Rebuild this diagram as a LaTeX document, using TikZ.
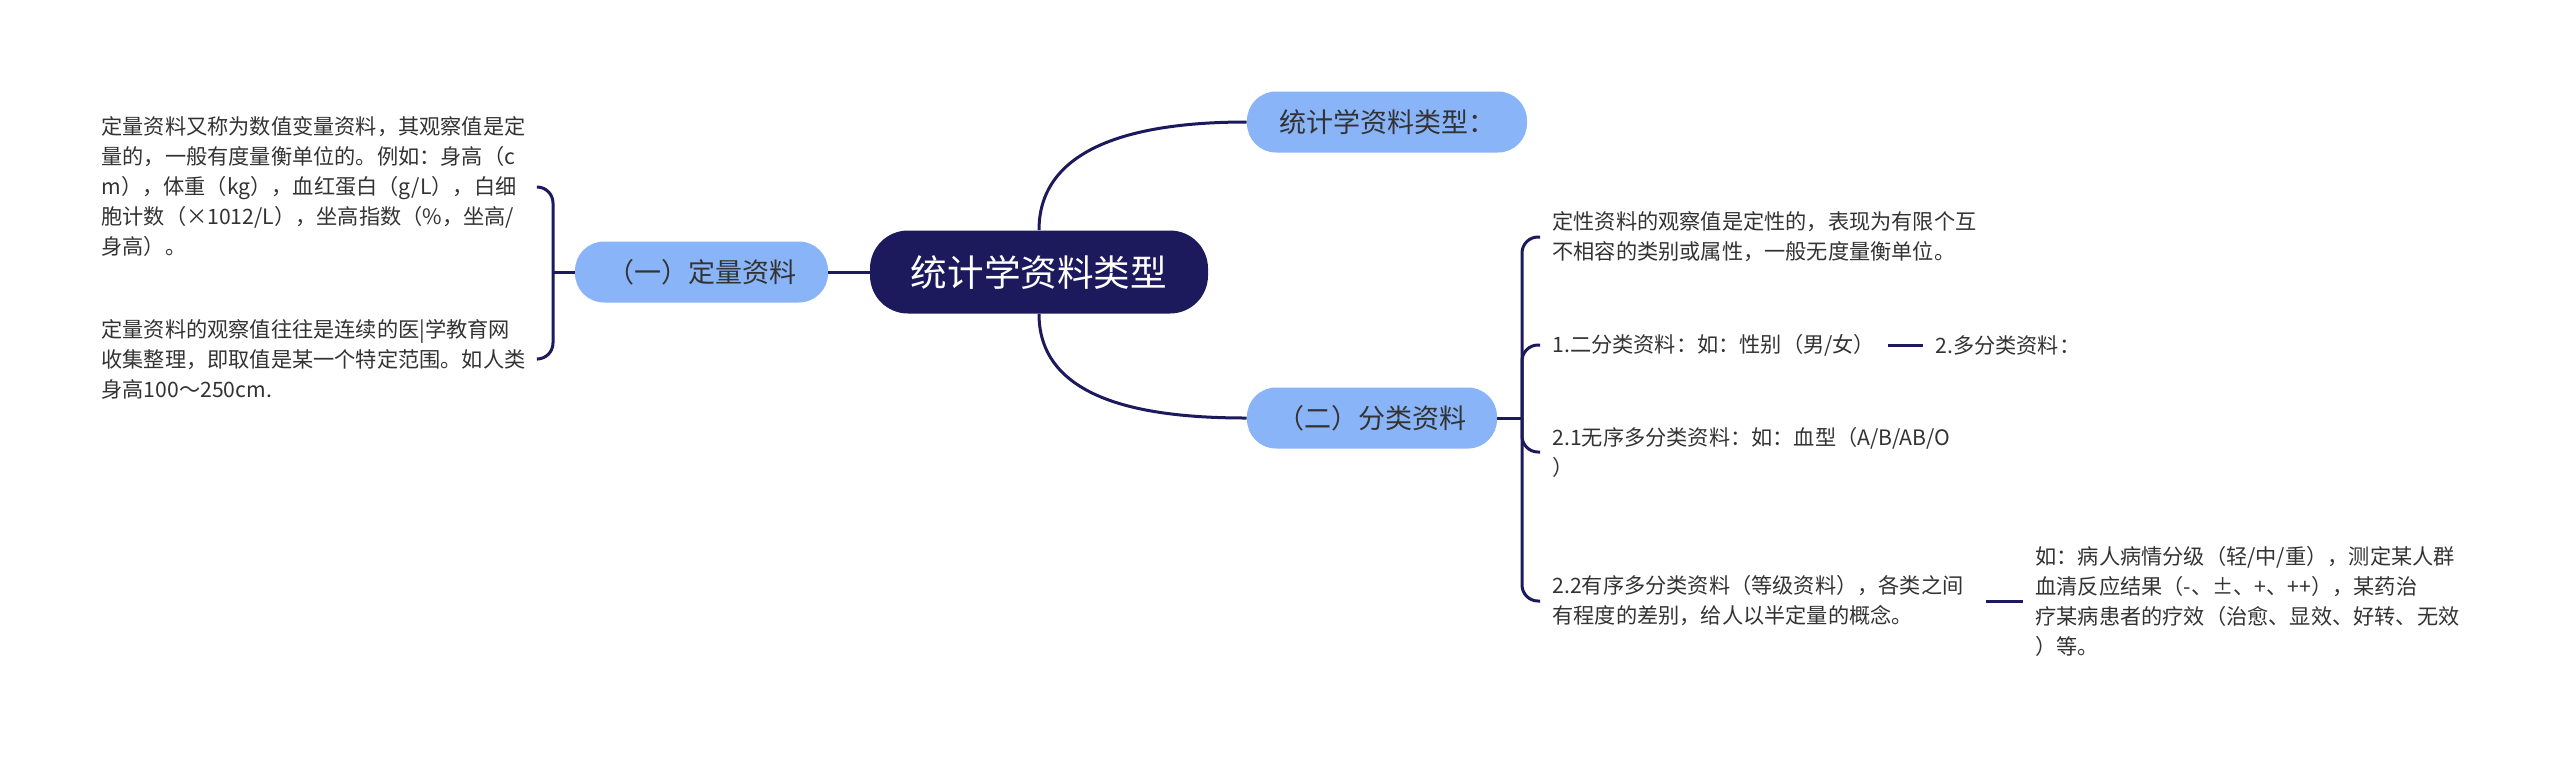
\documentclass[tikz,border=0pt]{standalone}
\usepackage{fontspec}
\setmainfont{Noto Sans CJK SC}
\definecolor{navy}{HTML}{1C1A5C}
\definecolor{pillblue}{HTML}{8AB4F8}
\definecolor{leafgray}{HTML}{333333}
\begin{document}
\begin{tikzpicture}[x=0.5pt, y=-0.5pt,
    root/.style={fill=navy, text=white, rounded corners=19pt, minimum width=169pt, minimum height=41.5pt, font=\fontsize{18.3}{22}\selectfont},
    topic/.style={fill=pillblue, text=leafgray, rounded corners=14.5pt, minimum height=30.5pt, font=\fontsize{13.5}{16}\selectfont},
    leaf/.style={anchor=west, align=left, inner xsep=6pt, inner ysep=0pt, text=leafgray, font=\fontsize{10.6}{15}\selectfont},
    link/.style={draw=navy, line width=1.5pt}]
    \useasboundingbox[fill=white] (0,0) rectangle (2560,757);

    \node[root] (stat) at (1039,272) {统计学资料类型};
    \node[topic, minimum width=140pt] (types) at (1387,122) {统计学资料类型：};
    \node[topic, minimum width=126.5pt] (quant) at (701.5,272) {（一）定量资料};
    \node[topic, minimum width=125pt] (categ) at (1372,418) {（二）分类资料};

    \node[leaf] (quantdef) at (89,187) {定量资料又称为数值变量资料，其观察值是定\\量的，一般有度量衡单位的。例如：身高（c\\m），体重（kg），血红蛋白（g/L），白细\\胞计数（×1012/L），坐高指数（\%，坐高/\\身高）。};
    \node[leaf] (quantrange) at (89,359) {定量资料的观察值往往是连续的医|学教育网\\收集整理，即取值是某一个特定范围。如人类\\身高100～250cm.};

    \node[leaf] (qualdef) at (1540,237) {定性资料的观察值是定性的，表现为有限个互\\不相容的类别或属性，一般无度量衡单位。};
    \node[leaf] (binary) at (1540,345) {1.二分类资料：如：性别（男/女）};
    \node[leaf] (multi) at (1923,345) {2.多分类资料：};
    \node[leaf] (nominal) at (1540,452) {2.1无序多分类资料：如：血型（A/B/AB/O\\）};
    \node[leaf] (ordinal) at (1540,601) {2.2有序多分类资料（等级资料），各类之间\\有程度的差别，给人以半定量的概念。};
    \node[leaf] (example) at (2023,601) {如：病人病情分级（轻/中/重），测定某人群\\血清反应结果（-、±、+、++），某药治\\疗某病患者的疗效（治愈、显效、好转、无效\\）等。};

    \coordinate (lj) at (553,272);
    \coordinate (rj) at (1522,418);

    % main branches
    \draw[link] (quant) -- (stat);
    \draw[link] (stat.north) to[out=90, in=180] (types.west);
    \draw[link] (stat.south) to[out=-90, in=180] (categ.west);

    % left bracket
    \draw[link] (quant.west) -- (lj);
    \foreach \leafname in {quantdef, quantrange}
        \draw[link, rounded corners=8pt] (lj) |- (\leafname.east);

    % right bracket
    \draw[link] (categ.east) -- (rj);
    \foreach \leafname in {qualdef, binary, nominal, ordinal}
        \draw[link, rounded corners=8pt] (rj) |- (\leafname.west);

    \draw[link] (binary) -- (multi);
    \draw[link, shorten <=5pt] (ordinal) -- (example);
\end{tikzpicture}
\end{document}
